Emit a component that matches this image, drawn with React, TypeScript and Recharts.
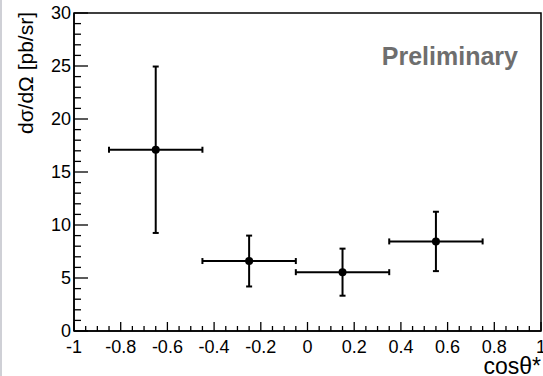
import React from 'react';
import { ScatterChart, Scatter, XAxis, YAxis, ErrorBar, ReferenceArea } from 'recharts';

// measured cross section per cos(theta*) bin
const binCenters = [-0.65, -0.25, 0.15, 0.55];
const xsValues = [17.1, 6.6, 5.55, 8.45];
const xsErrors = [7.85, 2.4, 2.22, 2.8];
const binHalfWidths = [0.2, 0.2, 0.2, 0.2];

const xMajorTicks = [-1, -0.8, -0.6, -0.4, -0.2, 0, 0.2, 0.4, 0.6, 0.8, 1];
const yMajorTicks = [0, 5, 10, 15, 20, 25, 30];

// ROOT-style minor ticks between the majors
const subdivide = (majors: number[], n: number) => {
  const out: number[] = [];
  for (let i = 0; i < majors.length - 1; i++) {
    const step = (majors[i + 1] - majors[i]) / n;
    for (let j = 0; j < n; j++) out.push(Math.round((majors[i] + j * step) * 1000) / 1000);
  }
  out.push(majors[majors.length - 1]);
  return out;
};
const xTicks = subdivide(xMajorTicks, 4);
const yTicks = subdivide(yMajorTicks, 5);

const data = binCenters.map((x, i) => ({
  x,
  y: xsValues[i],
  xErr: [binHalfWidths[i], binHalfWidths[i]],
  yErr: [xsErrors[i], xsErrors[i]],
}));

const FONT = '"Liberation Sans", Arial, Helvetica, sans-serif';

const isMajor = (v: number, list: number[]) => list.some((m) => Math.abs(m - v) < 1e-6);

const XTick = (props: any) => {
  const { x, y, payload } = props;
  const major = isMajor(payload.value, xMajorTicks);
  return (
    <g>
      <line x1={x} x2={x} y1={y} y2={y - (major ? 9 : 5)} stroke="#000" strokeWidth={1.3} />
      {major && (
        <text x={x} y={y + 22} textAnchor="middle" fontSize={18} fontFamily={FONT} fill="#000">
          {payload.value}
        </text>
      )}
    </g>
  );
};

const YTick = (props: any) => {
  const { x, y, payload } = props;
  const major = isMajor(payload.value, yMajorTicks);
  return (
    <g>
      <line x1={x} x2={x + (major ? 14 : 7)} y1={y} y2={y} stroke="#000" strokeWidth={1.3} />
      {major && (
        <text x={x - 3} y={y + 6} textAnchor="end" fontSize={18} fontFamily={FONT} fill="#000">
          {payload.value}
        </text>
      )}
    </g>
  );
};

const Dot = (props: any) => <circle cx={props.cx} cy={props.cy} r={4} fill="#000" />;

export default function App() {
  document.body.style.margin = '0';
  return (
    <div style={{ width: 543, height: 376, background: '#fff' }}>
      <ScatterChart width={543} height={376} margin={{ top: 13, right: 2, left: 14, bottom: 15 }}>
        <rect x={0} y={0} width={2} height={376} fill="#cfd0d6" />
        <XAxis
          type="number"
          dataKey="x"
          domain={[-1, 1]}
          ticks={xTicks}
          interval={0}
          height={30}
          tickSize={0}
          tickMargin={0}
          tickLine={false}
          tick={<XTick />}
          axisLine={{ stroke: '#000', strokeWidth: 1.5 }}
          allowDataOverflow
        />
        <YAxis
          type="number"
          dataKey="y"
          domain={[0, 30]}
          ticks={yTicks}
          interval={0}
          width={60}
          tickSize={0}
          tickMargin={0}
          tickLine={false}
          tick={<YTick />}
          axisLine={{ stroke: '#000', strokeWidth: 1.5 }}
          allowDataOverflow
        />
        <ReferenceArea x1={-1} x2={1} y1={0} y2={30} fill="none" fillOpacity={0} stroke="#000" strokeWidth={1.5} />
        <Scatter data={data} shape={<Dot />} isAnimationActive={false}>
          <ErrorBar dataKey="yErr" direction="y" width={3} stroke="#000" strokeWidth={2} isAnimationActive={false} />
          <ErrorBar dataKey="xErr" direction="x" width={3} stroke="#000" strokeWidth={2} isAnimationActive={false} />
        </Scatter>
        <text x={518} y={65} textAnchor="end" fontSize={25} fontWeight="bold" fontFamily={FONT} fill="#6e6e6e">
          Preliminary
        </text>
        <text x={541} y={374} textAnchor="end" fontSize={23} fontFamily={FONT} fill="#000">
          cosθ*
        </text>
        <text transform="rotate(-90)" x={-12} y={33} textAnchor="end" fontSize={21} fontFamily={FONT} fill="#000">
          dσ/dΩ [pb/sr]
        </text>
      </ScatterChart>
    </div>
  );
}
